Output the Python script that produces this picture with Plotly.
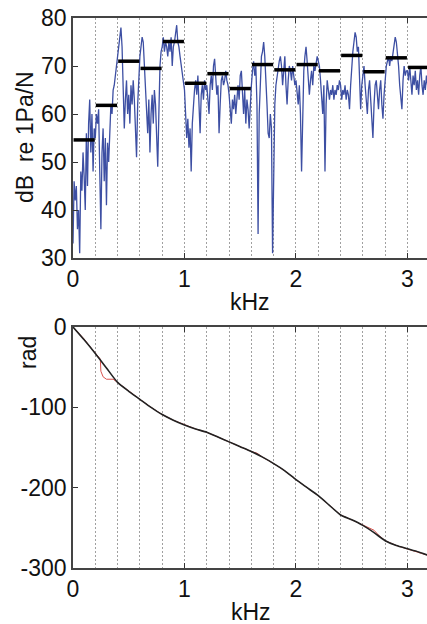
import plotly.graph_objects as go

# ---------------- data ----------------
# spectrum (dB re 1Pa/N) sampled every 0.01 kHz from 0 to 3.20 kHz
spectrum_step_khz = 0.01
spectrum_db = [
    33, 46, 42, 45, 36, 40, 31, 48, 44, 52, 47, 40, 56, 45, 58, 63, 52, 60, 48, 57,
    55, 60, 58, 61, 48, 36, 52, 57, 46, 55, 41, 54, 50, 58, 62, 60, 65, 66, 68, 70,
    72, 75, 77, 78, 74, 66, 57, 63, 67, 60, 64, 58, 66, 62, 67, 63, 58, 51, 62, 69,
    72, 74, 76, 75, 70, 66, 60, 56, 63, 52, 60, 64, 58, 65, 62, 55, 49, 60, 70, 73,
    74, 76, 73, 75, 74, 72, 75, 73, 76, 70, 74, 75, 77, 78.5, 75, 74, 72, 70, 68, 66,
    65, 60, 55, 59, 53, 57, 48, 58, 63, 65, 67, 64, 68, 62, 56, 64, 66, 63, 67, 65,
    66, 63, 60, 66, 68, 65, 70, 71.5, 67, 64, 66, 56, 62, 67, 68, 66, 67, 69, 67, 66,
    64, 60, 58, 63, 61, 64, 60, 63, 66, 63, 68, 69, 64, 60, 65, 58, 63, 61, 57, 63,
    66, 69, 71, 68, 70, 62, 35, 60, 68, 72, 73, 75, 72, 68, 62, 56, 55, 60, 57, 31,
    50, 62, 66, 68, 70, 71, 72, 70, 66, 69, 72, 66, 62, 67, 70, 69, 67, 70, 68, 66,
    67, 65, 62, 66, 60, 48, 63, 69, 72, 74, 71, 68, 64, 67, 69, 66, 70, 69, 71, 72,
    71, 70, 67, 63, 60, 66, 48, 62, 67, 65, 63, 65, 64, 66, 63, 65, 64, 66, 65, 67,
    66, 63, 65, 64, 66, 63, 65, 64, 61, 66, 70, 73, 75, 77, 76, 73, 74, 68, 61, 66,
    69, 70, 66, 63, 60, 65, 67, 63, 58, 55, 62, 66, 67, 63, 61, 65, 67, 62, 59, 64,
    68, 70, 71, 72, 70, 72, 71, 73, 74, 76, 75, 73, 70, 66, 64, 61, 67, 70, 68, 69,
    69, 67, 70, 66, 64, 68, 66, 69, 65, 67, 64, 68, 70, 66, 64, 67, 65, 68, 66, 67, 68,
]
spectrum_khz = [round(i * spectrum_step_khz, 2) for i in range(len(spectrum_db))]

# band levels (0.2 kHz bands)
band_start_khz = [0.0, 0.2, 0.4, 0.6, 0.8, 1.0, 1.2, 1.4, 1.6, 1.8, 2.0, 2.2, 2.4, 2.6, 2.8, 3.0]
band_width_khz = 0.2
band_level_db = [54.6, 61.8, 71.0, 69.5, 75.1, 66.4, 68.4, 65.3, 70.3, 69.2, 70.3, 69.0, 72.2, 68.8, 71.7, 69.7]

# phase (rad)
phase_khz = [0.0, 0.1, 0.2, 0.3, 0.4, 0.5, 0.6, 0.7, 0.8, 0.9, 1.0, 1.1, 1.2, 1.3, 1.4, 1.5,
             1.6, 1.7, 1.8, 1.9, 2.0, 2.1, 2.2, 2.3, 2.4, 2.5, 2.6, 2.7, 2.8, 2.9, 3.0, 3.1, 3.2]
phase_rad = [0, -16, -33, -51, -69, -80, -90, -100, -109, -116, -122, -127, -131, -137, -143, -149,
             -155, -162, -170, -179, -190, -200, -210, -222, -234, -240, -247, -256, -266, -272, -276, -280, -285]

phase2_khz = [0.0, 0.05, 0.08, 0.1, 0.15, 0.2, 0.245, 0.25, 0.27, 0.3, 0.36, 0.39, 0.5, 0.6, 0.7, 0.8,
              0.9, 1.0, 1.1, 1.2, 1.3, 1.4, 1.5, 1.6, 1.65, 1.7, 1.8, 1.9, 2.0, 2.1, 2.2, 2.3,
              2.4, 2.5, 2.6, 2.7, 2.74, 2.78, 2.8, 2.9, 3.0, 3.1, 3.2]
phase2_rad = [0, -7, -12, -15, -24, -32, -40, -55, -62, -65, -65, -68, -80, -90, -100, -109,
              -116, -122, -127, -131, -137, -143, -149, -155, -157, -162, -170, -179, -190, -200, -210, -222,
              -234, -240, -247, -253, -259, -264, -266, -272, -276, -280, -285]

x_ticks = [0, 1, 2, 3]
x_grid_minor = [0.2, 0.4, 0.6, 0.8, 1.2, 1.4, 1.6, 1.8, 2.2, 2.4, 2.6, 2.8, 3.2]
db_ticks = [30, 40, 50, 60, 70, 80]
rad_ticks = [-300, -200, -100, 0]

# ---------------- figure ----------------
W, H = 427, 624
ML = 73
PW = W - ML

def px_x(x):
    return (x - ML) / PW

def px_y(y):
    return 1 - y / H

FONT = "Liberation Sans, Arial, Helvetica, sans-serif"
FS = 23

fig = go.Figure()

fig.add_trace(go.Scatter(x=spectrum_khz, y=spectrum_db, mode="lines",
                         line=dict(color="#3d4fa3", width=1.3),
                         xaxis="x", yaxis="y", showlegend=False, hoverinfo="skip"))

bx, by = [], []
for s, lv in zip(band_start_khz, band_level_db):
    bx += [s + 0.005, s + band_width_khz - 0.005, None]
    by += [lv, lv, None]
fig.add_trace(go.Scatter(x=bx, y=by, mode="lines", line=dict(color="black", width=3.5),
                         xaxis="x", yaxis="y", showlegend=False, hoverinfo="skip"))

fig.add_trace(go.Scatter(x=phase2_khz, y=phase2_rad, mode="lines",
                         line=dict(color="#d9534f", width=1),
                         xaxis="x2", yaxis="y2", showlegend=False, hoverinfo="skip"))
fig.add_trace(go.Scatter(x=phase_khz, y=phase_rad, mode="lines",
                         line=dict(color="#222222", width=1.6, shape="spline", smoothing=0.6),
                         xaxis="x2", yaxis="y2", showlegend=False, hoverinfo="skip"))

def xaxis_cfg(anchor):
    return dict(range=[0, 3.175], domain=[0, 1], anchor=anchor, automargin=False,
                tickmode="array", tickvals=x_ticks, ticktext=[str(v) for v in x_ticks],
                ticks="inside", ticklen=5, tickwidth=1.2, tickcolor="#333",
                showline=True, linecolor="#444", linewidth=1.5, mirror="ticks",
                showgrid=True, gridcolor="#a0a0a0", gridwidth=1, griddash="2px,2px",
                minor=dict(tickvals=x_grid_minor, showgrid=True, gridcolor="#a0a0a0",
                           gridwidth=1, griddash="2px,2px", ticks=""),
                zeroline=False, tickfont=dict(family=FONT, size=FS, color="#111"))

def yaxis_cfg(anchor, dom, rng, ticks):
    return dict(range=rng, domain=dom, anchor=anchor, automargin=False,
                tickmode="array", tickvals=ticks, ticktext=[str(v) for v in ticks],
                ticks="inside", ticklen=5, tickwidth=1.2, tickcolor="#333",
                showline=True, linecolor="#444", linewidth=1.5, mirror=False,
                showgrid=False, zeroline=False,
                tickfont=dict(family=FONT, size=FS, color="#111"))

fig.update_layout(
    template="none",
    width=W, height=H,
    margin=dict(l=ML, r=0, t=0, b=0, pad=0),
    paper_bgcolor="white", plot_bgcolor="white",
    xaxis=xaxis_cfg("y"),
    yaxis=yaxis_cfg("x", [px_y(258), px_y(18)], [30, 80], db_ticks),
    xaxis2=xaxis_cfg("y2"),
    yaxis2=yaxis_cfg("x2", [px_y(568), px_y(327)], [-300, 0], rad_ticks),
    font=dict(family=FONT, size=FS, color="#111"),
)

ann = dict(xref="paper", yref="paper", showarrow=False,
           font=dict(family=FONT, size=FS, color="#111"), xanchor="center", yanchor="middle")
fig.add_annotation(text="dB  re 1Pa/N", x=px_x(25), y=px_y(137), textangle=-90, **ann)
fig.add_annotation(text="rad", x=px_x(28), y=px_y(353), textangle=-90, **ann)
fig.add_annotation(text="kHz", x=px_x(250), y=px_y(302), **ann)
fig.add_annotation(text="kHz", x=px_x(251), y=px_y(612), **ann)

fig.write_html("out.html", config={"displayModeBar": False},
               post_script="document.body.style.margin='0';document.body.style.overflow='hidden';")
